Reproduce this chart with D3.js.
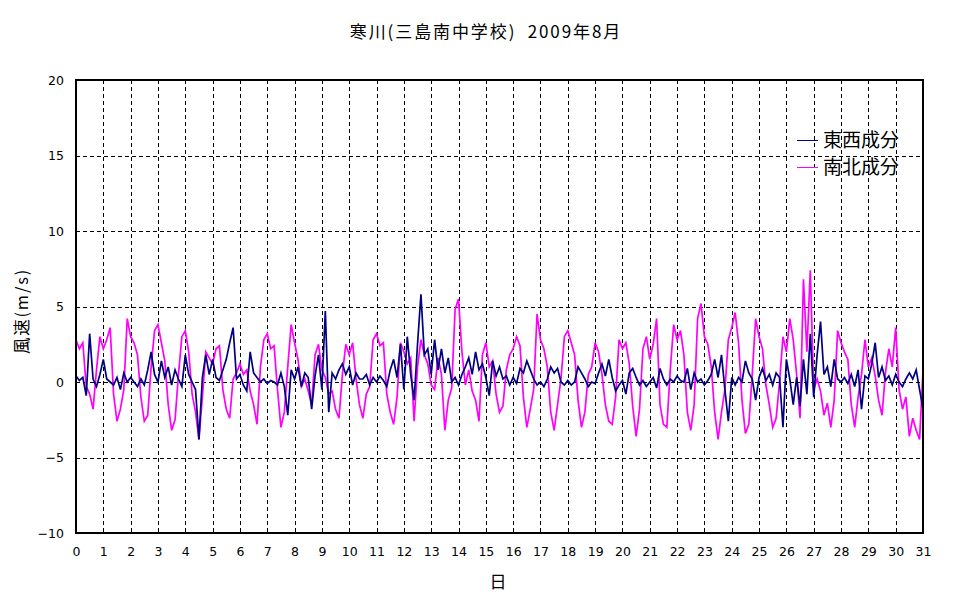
<!DOCTYPE html>
<html><head><meta charset="utf-8">
<script src="https://cdn.jsdelivr.net/npm/d3@7"></script>
<style>
body{margin:0;background:#fff;}
svg{display:block;}
</style></head>
<body>
<svg id="chart" width="970" height="604"></svg>
<script>
// ---- data (3-hourly readings, 8 per day, day 0 .. 31) ----
const title = "寒川(三島南中学校)\u00a0\u00a02009年8月";
const seriesNames = ["東西成分", "南北成分"];
const seriesColors = ["#000080", "#ff00ff"];
const samplesPerDay = 8;
const eastWest = [
 0.4,0.1,0.3,-0.9,3.2,0.2,-0.3,0.5, 1.5,0.2,0.0,-0.2,0.3,-0.5,0.6,0.0,
 0.3,0.0,-0.3,0.2,-0.2,0.8,2.0,0.5, 0.0,1.4,0.3,1.0,-0.2,0.8,0.2,-0.3,
 1.8,0.5,0.0,-0.5,-3.8,0.3,1.8,0.5, 1.5,0.3,0.1,0.8,1.5,2.6,3.6,0.2,
 0.5,-0.2,-0.6,2.0,0.6,0.3,0.0,0.2, -0.1,0.1,0.0,-0.2,0.6,-0.3,-2.2,0.8,
 0.2,1.0,-0.3,0.6,0.3,-1.8,0.4,1.8, -0.5,4.7,-2.0,0.6,0.2,0.8,1.2,0.5,
 1.0,-0.2,0.6,0.2,0.2,0.5,-0.2,0.3, 0.0,0.4,0.1,-0.3,0.8,1.5,0.3,2.5,
 -0.5,3.0,0.5,-1.2,2.5,5.8,1.8,2.2, 0.5,2.8,0.8,2.2,0.6,1.6,0.0,0.3,
 -0.2,0.5,1.0,1.6,0.5,2.0,0.8,1.2, 0.3,-0.9,1.4,0.4,1.0,0.2,0.4,-0.2,
 0.3,-0.1,0.9,0.6,1.4,0.8,0.2,-0.2, 0.0,-0.3,0.2,1.0,0.6,0.9,0.0,-0.2,
 0.1,-0.2,0.0,1.0,0.6,0.2,-0.3,0.0, -0.1,0.6,1.2,0.4,1.5,0.3,-0.6,-0.2,
 0.1,-0.8,0.6,0.9,0.3,-0.2,0.1,-0.3, 0.0,0.3,-0.4,0.9,0.2,-0.2,0.2,0.0,
 0.4,0.1,0.0,0.9,-0.5,0.6,0.0,0.2, -0.2,0.1,0.5,1.5,0.3,1.8,-0.5,-2.6,
 0.3,-0.2,0.3,0.0,1.4,0.6,0.2,-1.2, 0.3,0.9,0.1,0.5,-0.2,0.6,0.3,-3.0,
 1.5,0.2,-1.5,0.3,-1.6,1.5,-0.8,3.2, -1.0,1.8,4.0,0.5,1.0,-0.3,1.5,0.2,
 0.0,0.3,-0.1,0.5,-0.3,0.8,-1.8,0.4, 0.2,1.2,2.6,0.3,1.0,0.1,0.4,-0.2,
 0.5,0.0,-0.3,0.2,0.6,0.2,0.8,-0.5, -1.8
];
const northSouth = [
 2.8,2.2,2.6,-0.3,-0.8,-1.8,0.8,3.0, 2.2,2.8,3.6,-0.8,-2.6,-1.8,-0.5,4.2,
 3.0,2.6,1.8,-1.0,-2.6,-2.2,1.0,3.4, 3.8,2.6,1.4,-1.5,-3.2,-2.5,0.5,3.0,
 3.4,2.0,-0.8,-2.0,-3.8,-1.0,2.0,1.6, 1.2,2.2,2.4,-0.5,-1.8,-2.4,0.2,0.6,
 1.2,0.5,0.8,-0.6,-1.5,-2.8,1.0,2.8, 3.2,2.2,2.4,-0.5,-3.0,-2.0,1.0,3.8,
 2.6,1.5,-0.3,0.2,-0.6,-1.5,1.8,2.5, 0.8,0.3,-0.8,-0.6,-1.8,-2.4,0.5,2.5,
 1.8,2.6,0.2,-1.5,-2.4,-0.8,-0.3,2.8, 3.2,2.4,2.6,-0.8,-2.0,-2.8,-1.0,2.6,
 2.0,1.2,1.6,-2.6,1.0,2.8,1.8,1.2, -0.2,-0.5,1.6,0.5,-3.2,-1.2,-0.4,4.8,
 5.5,2.0,-0.2,0.8,-0.6,-1.2,-2.6,1.8, 2.6,1.0,1.4,-0.8,-2.0,-1.6,0.8,1.8,
 2.2,3.0,2.4,-1.0,-3.0,-1.8,-0.5,4.5, 2.8,2.2,1.0,-2.0,-3.2,-1.5,0.2,3.0,
 3.4,2.6,1.8,-1.2,-3.0,-2.0,0.5,1.0, 2.6,2.0,0.5,-1.5,-2.6,-2.8,-1.0,2.8,
 2.2,2.6,1.2,-1.6,-3.6,-1.8,2.2,3.0, 1.5,2.5,4.2,-1.5,-2.8,-3.0,0.8,3.8,
 2.8,3.4,1.8,-2.0,-3.2,-1.5,4.2,5.2, 3.0,2.5,1.0,-2.0,-3.8,-2.0,-0.5,2.8,
 3.6,4.6,2.6,-1.2,-3.4,-2.8,0.5,4.2, 3.0,2.2,-0.2,-1.5,-3.0,-2.4,0.0,3.0,
 2.0,4.2,2.8,0.5,-2.4,6.8,2.0,7.4, -0.5,0.2,-0.6,-2.2,-1.4,-3.0,-1.2,3.4,
 2.6,2.0,1.5,-1.5,-3.0,-1.0,0.5,2.8, 1.0,1.6,0.4,-1.2,-2.2,0.6,2.2,1.0,
 3.6,-0.5,-1.8,-1.0,-3.6,-2.4,-3.2,-3.8, 0.8
];
const dayTicks = d3.range(0, 32);
const speedTicks = [-10, -5, 0, 5, 10, 15, 20];
const xLabel = "日";
const yLabel = "風速(m/s)";

// ---- layout ----
const svg = d3.select("#chart");
const L = 76, R = 923, T = 80, B = 533;
const x = d3.scaleLinear().domain([0, 31]).range([L, R]);
const y = d3.scaleLinear().domain([-10, 20]).range([B, T]);
const numFont = "'DejaVu Sans', sans-serif";
const cjkFont = "'Noto Sans CJK JP', sans-serif";

// grid
const grid = svg.append("g").attr("stroke", "#000").attr("stroke-width", 1)
  .attr("stroke-dasharray", "4,3").attr("shape-rendering", "crispEdges");
grid.selectAll("line.v").data(dayTicks.filter(d => d > 0 && d < 31)).join("line")
  .attr("x1", d => Math.round(x(d)) + 0.5).attr("x2", d => Math.round(x(d)) + 0.5)
  .attr("y1", T).attr("y2", B);
grid.selectAll("line.h").data(speedTicks.filter(v => v > -10 && v < 20)).join("line")
  .attr("y1", v => Math.round(y(v)) + 0.5).attr("y2", v => Math.round(y(v)) + 0.5)
  .attr("x1", L).attr("x2", R);

// series
const line = d3.line().x((d, i) => x(i / samplesPerDay)).y(d => y(d));
const plot = svg.append("g");
plot.append("path").datum(northSouth).attr("d", line)
  .attr("fill", "none").attr("stroke", seriesColors[1]).attr("stroke-width", 1.7)
  .attr("stroke-linejoin", "miter");
plot.append("path").datum(eastWest).attr("d", line)
  .attr("fill", "none").attr("stroke", seriesColors[0]).attr("stroke-width", 1.7)
  .attr("stroke-linejoin", "miter");

// frame
svg.append("rect").attr("x", L).attr("y", T).attr("width", R - L).attr("height", B - T)
  .attr("fill", "none").attr("stroke", "#000").attr("stroke-width", 2);

// axes (labels only)
const xAxis = d3.axisBottom(x).tickValues(dayTicks).tickSize(0).tickPadding(14).tickFormat(d3.format("d"));
const gx = svg.append("g").attr("transform", `translate(0,${B})`).call(xAxis);
gx.select(".domain").remove();
gx.selectAll("text").attr("font-family", numFont).attr("font-size", 12.5).attr("fill", "#000");

const yAxis = d3.axisLeft(y).tickValues(speedTicks).tickSize(0).tickPadding(12).tickFormat(d3.format("d"));
const gy = svg.append("g").attr("transform", `translate(${L},0)`).call(yAxis);
gy.select(".domain").remove();
gy.selectAll("text").attr("font-family", numFont).attr("font-size", 12.5).attr("fill", "#000");

// title
svg.append("text").attr("x", 486).attr("y", 38).attr("text-anchor", "middle")
  .attr("font-family", cjkFont).attr("font-size", 17).attr("letter-spacing", 1.9).text(title);

// axis titles
svg.append("text").attr("x", 498).attr("y", 588).attr("text-anchor", "middle")
  .attr("font-family", cjkFont).attr("font-size", 17).text(xLabel);
svg.append("text").attr("transform", "translate(28,311) rotate(-90)").attr("text-anchor", "middle")
  .attr("font-family", cjkFont).attr("font-size", 16.5).attr("letter-spacing", 1.8).text(yLabel);

// legend
const lg = svg.append("g").attr("transform", "translate(797,140)");
seriesNames.forEach((name, i) => {
  const g = lg.append("g").attr("transform", `translate(0,${i * 27})`);
  g.append("line").attr("x1", 0).attr("x2", 21).attr("y1", 0.5).attr("y2", 0.5)
    .attr("stroke", seriesColors[i]).attr("stroke-width", 1);
  g.append("text").attr("x", 26).attr("y", 7).attr("font-family", cjkFont)
    .attr("font-size", 19).text(name);
});
</script>
</body></html>
